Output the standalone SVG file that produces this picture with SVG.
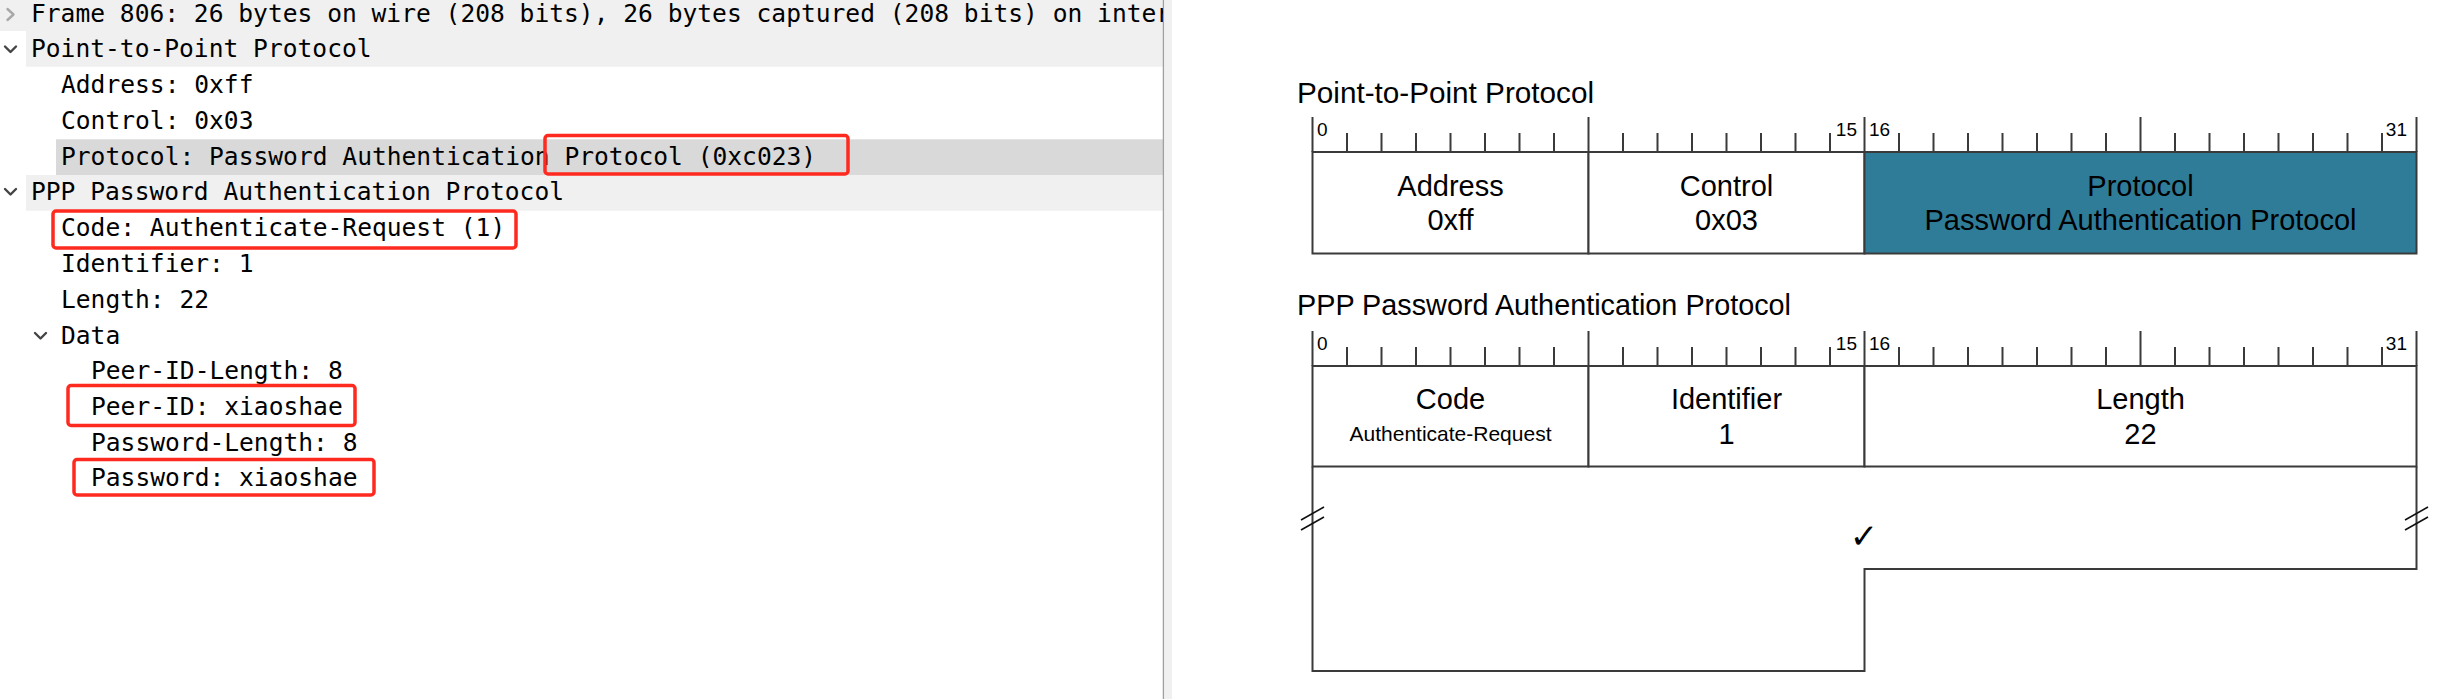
<svg xmlns="http://www.w3.org/2000/svg" width="2451" height="699" viewBox="0 0 2451 699">
<style>
.mono{font-family:"DejaVu Sans Mono","Liberation Mono",monospace;font-size:24.6px;fill:#000}
.t{font-family:"Liberation Sans",Arial,sans-serif;fill:#000}
.title{font-size:29.7px}
.lbl{font-size:29px;text-anchor:middle}
.small{font-size:21px;text-anchor:middle}
.bit{font-size:19px}
.end{text-anchor:end}
.ln{stroke:#3a3a3a;stroke-width:2;fill:none}
.fld{stroke:#3a3a3a;stroke-width:2;fill:#fff}
.teal{fill:#2f7c99}
.red{fill:none;stroke:#ff2a1f;stroke-width:3.5}
.brk{stroke:#111;stroke-width:1.6;fill:none}
.chev{fill:none;stroke-width:2.4;stroke-linecap:round;stroke-linejoin:round}
</style>
<defs>
<clipPath id="panelClip"><rect x="0" y="0" width="1163" height="699"/></clipPath>
<g id="ruler">
<path class="ln" d="M1312.5 -35V0M1588.5 -35V0M1864.5 -35V0M2140.5 -35V0M2416.5 -35V0"/>
<path class="ln" d="M1347 -19V0M1381.5 -19V0M1416 -19V0M1450.5 -19V0M1485 -19V0M1519.5 -19V0M1554 -19V0M1623 -19V0M1657.5 -19V0M1692 -19V0M1726.5 -19V0M1761 -19V0M1795.5 -19V0M1830 -19V0M1899 -19V0M1933.5 -19V0M1968 -19V0M2002.5 -19V0M2037 -19V0M2071.5 -19V0M2106 -19V0M2175 -19V0M2209.5 -19V0M2244 -19V0M2278.5 -19V0M2313 -19V0M2347.5 -19V0M2382 -19V0"/>
<text class="t bit" x="1317" y="-16">0</text>
<text class="t bit end" x="1857" y="-16">15</text>
<text class="t bit" x="1869" y="-16">16</text>
<text class="t bit end" x="2407" y="-16">31</text>
</g>
</defs>
<rect x="0" y="0" width="2451" height="699" fill="#fff"/>

<g id="packet-tree">
<rect x="0" y="0" width="1163" height="31" fill="#f0f0f0"/>
<rect x="26" y="31" width="1137" height="35.7" fill="#f0f0f0"/>
<rect x="56" y="139.3" width="1107" height="35.7" fill="#d9d9d9"/>
<rect x="26" y="175" width="1137" height="35.7" fill="#f0f0f0"/>
<line x1="1163.5" y1="0" x2="1163.5" y2="699" stroke="#a0a0a0" stroke-width="1.5"/>
<rect x="1164.3" y="0" width="7.7" height="699" fill="#f0f0f0"/>
<polyline class="chev" stroke="#a8a8a8" points="7.5,9 13.5,14.5 7.5,20"/>
<polyline class="chev" stroke="#444" points="5,46.5 10.5,52 16,46.5"/>
<polyline class="chev" stroke="#444" points="5,189 10.5,194.5 16,189"/>
<polyline class="chev" stroke="#444" points="35,333 40.5,338.5 46,333"/>
<g clip-path="url(#panelClip)">
<text class="mono" x="31" y="21.7">Frame 806: 26 bytes on wire (208 bits), 26 bytes captured (208 bits) on inter</text>
<text class="mono" x="31" y="57.4">Point-to-Point Protocol</text>
<text class="mono" x="61" y="93.1">Address: 0xff</text>
<text class="mono" x="61" y="128.8">Control: 0x03</text>
<text class="mono" x="61" y="164.5">Protocol: Password Authentication Protocol (0xc023)</text>
<text class="mono" x="31" y="200.2">PPP Password Authentication Protocol</text>
<text class="mono" x="61" y="235.9">Code: Authenticate-Request (1)</text>
<text class="mono" x="61" y="272">Identifier: 1</text>
<text class="mono" x="61" y="308">Length: 22</text>
<text class="mono" x="61" y="343.7">Data</text>
<text class="mono" x="91" y="379.3">Peer-ID-Length: 8</text>
<text class="mono" x="91" y="415">Peer-ID: xiaoshae</text>
<text class="mono" x="91" y="450.7">Password-Length: 8</text>
<text class="mono" x="91" y="486.4">Password: xiaoshae</text>
</g>
<rect class="red" x="545" y="135.5" width="303" height="38.5" rx="3"/>
<rect class="red" x="53" y="211" width="463" height="37" rx="3"/>
<rect class="red" x="68" y="385.5" width="287" height="40" rx="3"/>
<rect class="red" x="74" y="459.5" width="300" height="35.5" rx="3"/>
</g>

<g id="ppp">
<text class="t title" x="1297" y="103.3">Point-to-Point Protocol</text>
<use href="#ruler" transform="translate(0,152)"/>
<g id="ppp-address">
<rect class="fld" x="1312.5" y="152" width="276" height="101.5"/>
<text class="t lbl" x="1450.5" y="196">Address</text>
<text class="t lbl" x="1450.5" y="230">0xff</text>
</g>
<g id="ppp-control">
<rect class="fld" x="1588.5" y="152" width="276" height="101.5"/>
<text class="t lbl" x="1726.5" y="196">Control</text>
<text class="t lbl" x="1726.5" y="230">0x03</text>
</g>
<g id="ppp-protocol">
<rect class="fld teal" x="1864.5" y="152" width="552" height="101.5"/>
<text class="t lbl" x="2140.5" y="196">Protocol</text>
<text class="t lbl" x="2140.5" y="230">Password Authentication Protocol</text>
</g>
</g>

<g id="pap">
<text class="t title" x="1297" y="315" textLength="494" lengthAdjust="spacingAndGlyphs">PPP Password Authentication Protocol</text>
<use href="#ruler" transform="translate(0,366)"/>
<g id="pap-code">
<rect class="fld" x="1312.5" y="366" width="276" height="100.5"/>
<text class="t lbl" x="1450.5" y="409">Code</text>
<text class="t small" x="1450.5" y="441">Authenticate-Request</text>
</g>
<g id="pap-identifier">
<rect class="fld" x="1588.5" y="366" width="276" height="100.5"/>
<text class="t lbl" x="1726.5" y="409">Identifier</text>
<text class="t lbl" x="1726.5" y="443.5">1</text>
</g>
<g id="pap-length">
<rect class="fld" x="1864.5" y="366" width="552" height="100.5"/>
<text class="t lbl" x="2140.5" y="409">Length</text>
<text class="t lbl" x="2140.5" y="443.5">22</text>
</g>
<g id="pap-data">
<path class="ln" d="M1312.5 466.5V671H1864.5V569H2416.5V466.5"/>
<path class="brk" d="M1301 520L1324 507M1301 530L1324 517"/>
<path class="brk" d="M2405 520L2428 507M2405 530L2428 517"/>
<text x="1864" y="548" font-family="DejaVu Sans,sans-serif" font-size="34" font-weight="bold" text-anchor="middle" fill="#000">✓</text>
</g>
</g>
<g id="connectors"/>
</svg>
